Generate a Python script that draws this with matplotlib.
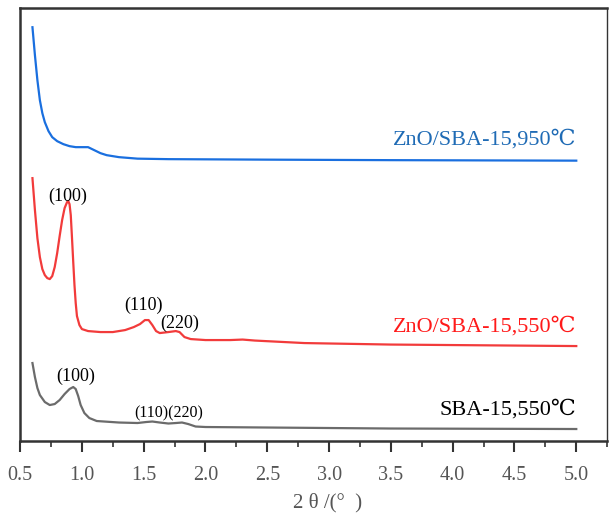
import numpy as np
import matplotlib.pyplot as plt
from matplotlib.ticker import MultipleLocator

plt.rcParams['font.family'] = ['Liberation Serif', 'DejaVu Serif', 'Noto Sans CJK SC']

# small-angle XRD patterns (arbitrary intensity, stacked)
two_theta_950 = [0.60, 0.62, 0.64, 0.66, 0.68, 0.70, 0.73, 0.76, 0.80, 0.85, 0.90, 0.95,
                 1.00, 1.05, 1.10, 1.15, 1.20, 1.30, 1.45, 1.70, 2.5, 3.5, 5.0]
inten_950 = [414, 386, 361, 341, 328, 319, 310, 304, 300, 297, 295, 294,
             294, 294, 291, 288, 286, 284, 282.5, 282, 281.5, 281, 280.5]

two_theta_550 = [0.60, 0.62, 0.64, 0.66, 0.68, 0.70, 0.72, 0.74, 0.76, 0.78, 0.80, 0.82,
                 0.84, 0.86, 0.88, 0.89, 0.90, 0.91, 0.92, 0.93, 0.94, 0.95, 0.96, 0.98,
                 1.00, 1.05, 1.15, 1.25, 1.35, 1.42, 1.47, 1.51, 1.54, 1.57, 1.60, 1.63,
                 1.70, 1.76, 1.79, 1.83, 1.88, 2.0, 2.2, 2.3, 2.4, 2.8, 3.5, 5.0]
inten_550 = [263, 231, 203, 184, 172, 166, 163, 162, 165, 174, 188, 205,
             221, 233, 239, 240, 237, 226, 203, 179, 156, 138, 125, 116,
             112, 110, 109, 109, 111, 114, 117, 121, 121, 116, 110, 108,
             109, 110, 109, 104, 102, 101, 101, 101.5, 100.5, 98, 96.5, 95]

two_theta_sba = [0.60, 0.62, 0.64, 0.66, 0.70, 0.74, 0.78, 0.82, 0.86, 0.90, 0.93, 0.95,
                 0.97, 0.99, 1.02, 1.06, 1.12, 1.30, 1.45, 1.52, 1.57, 1.63, 1.70, 1.76,
                 1.81, 1.86, 1.92, 2.0, 2.5, 3.5, 5.0]
inten_sba = [78, 64, 53, 46, 39, 36, 37, 41, 47, 52, 54, 52,
             45, 36, 28, 23, 20, 18.5, 18, 19, 19.5, 18.5, 17.5, 18,
             18.5, 17, 14.5, 14, 13.5, 12.5, 12]

fig = plt.figure(figsize=(6.09, 5.14), dpi=100)
ax = fig.add_axes([0.033, 0.142, 0.964, 0.842])

ax.plot(two_theta_950, inten_950, color='#1a6fdf', lw=1.6)
ax.plot(two_theta_550, inten_550, color='#f23b3b', lw=1.6)
ax.plot(two_theta_sba, inten_sba, color='#6b6b6b', lw=1.6)

ax.text(5.0, 302, 'ZnO/SBA-15,950℃', color='#1f6bb5', fontsize=16, ha='right', va='center')
ax.text(5.0, 114, 'ZnO/SBA-15,550℃', color='#ff1a1a', fontsize=16, ha='right', va='center')
ax.text(5.0, 31, 'SBA-15,550℃', color='black', fontsize=16, ha='right', va='center')

ax.text(0.888, 245, '(100)', fontsize=13, ha='center', va='center')
ax.text(1.50, 136, '(110)', fontsize=13, ha='center', va='center')
ax.text(1.79, 118, '(220)', fontsize=13, ha='center', va='center')
ax.text(0.95, 65, '(100)', fontsize=13, ha='center', va='center')
ax.text(1.70, 28, '(110)(220)', fontsize=11.5, ha='center', va='center')

ax.set_xlim(0.5, 5.25)
ax.set_ylim(0, 433)
ax.set_yticks([])
ax.xaxis.set_minor_locator(MultipleLocator(0.25))
ax.set_xticks(np.arange(0.5, 5.01, 0.5))
ax.tick_params(axis='x', which='major', direction='out', length=8, width=1.5,
               labelsize=14.5, labelcolor='#555555', color='#333333', pad=10)
ax.tick_params(axis='x', which='minor', direction='out', length=4.5, width=1.2, color='#333333')

fig.text(328 / 609, 1 - 503 / 514, '2 θ /(°  )', fontsize=15, color='#555555',
         ha='center', va='center')

for side in ['left', 'bottom', 'top']:
    ax.spines[side].set_linewidth(1.8)
    ax.spines[side].set_color('#333333')
ax.spines['right'].set_linewidth(1.0)
ax.spines['right'].set_color('#333333')

fig.savefig('out.png', dpi=100)
